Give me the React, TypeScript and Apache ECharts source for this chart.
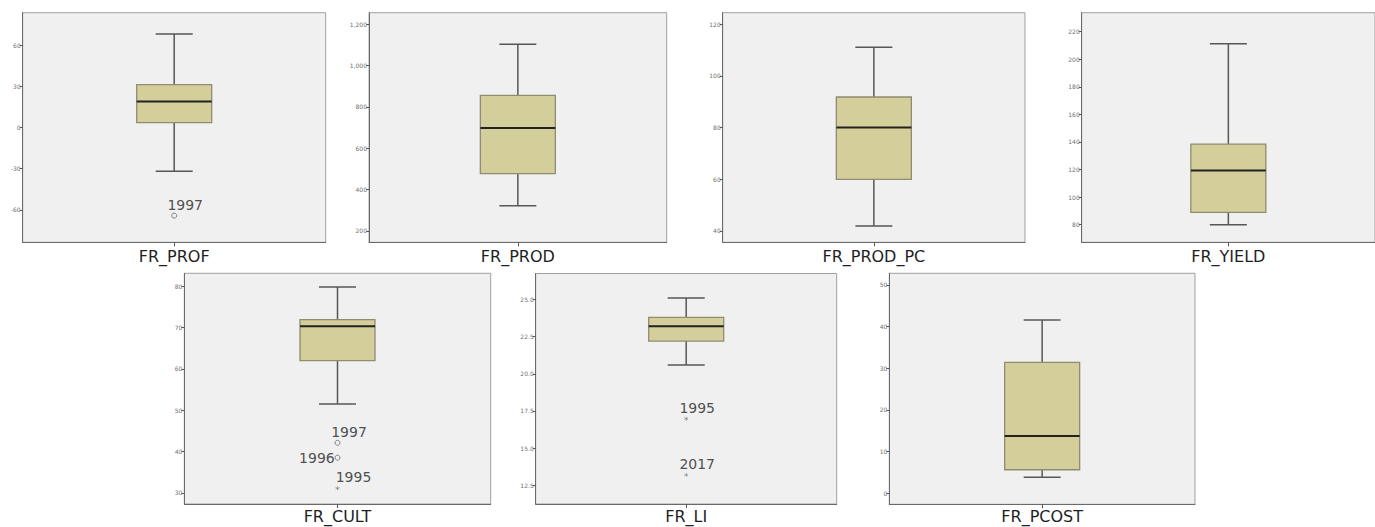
import React, { useEffect, useRef } from 'react';
import * as echarts from 'echarts';

// ---------- data ----------
const variables = ['FR_PROF', 'FR_PROD', 'FR_PROD_PC', 'FR_YIELD', 'FR_CULT', 'FR_LI', 'FR_PCOST'];

// [lower whisker, Q1, median, Q3, upper whisker]
const profStats = [-31.9, 3.6, 18.9, 31.2, 68];
const prodStats = [322, 477, 698, 855, 1103];
const prodPcStats = [41.9, 59.9, 80, 91.8, 111];
const yieldStats = [80, 88.9, 119.3, 138.5, 211.3];
const cultStats = [51.5, 62, 70.3, 71.9, 79.8];
const liStats = [20.6, 22.2, 23.2, 23.8, 25.1];
const pcostStats = [3.8, 5.6, 13.7, 31.4, 41.6];

// outliers: year label, value, extreme (asterisk) or not (circle)
const profOutliers = [{ year: '1997', value: -64.1, extreme: false }];
const prodOutliers: any[] = [];
const prodPcOutliers: any[] = [];
const yieldOutliers: any[] = [];
const cultOutliers = [
  { year: '1997', value: 42.1, extreme: false },
  { year: '1996', value: 38.5, extreme: false },
  { year: '1995', value: 31.1, extreme: true },
];
const liOutliers = [
  { year: '1995', value: 16.98, extreme: true },
  { year: '2017', value: 13.2, extreme: true },
];
const pcostOutliers: any[] = [];

// tick labels
const profTicks = [-60, -30, 0, 30, 60];
const prodTicks = [200, 400, 600, 800, 1000, 1200];
const prodPcTicks = [40, 60, 80, 100, 120];
const yieldTicks = [80, 100, 120, 140, 160, 180, 200, 220];
const cultTicks = [30, 40, 50, 60, 70, 80];
const liTicks = [12.5, 15, 17.5, 20, 22.5, 25];
const pcostTicks = [0, 10, 20, 30, 40, 50];

// axis extents
const profRange = [-83.5, 83.5];
const prodRange = [145, 1255];
const prodPcRange = [35.6, 124.4];
const yieldRange = [67.2, 233.8];
const cultRange = [27.3, 83.1];
const liRange = [11.24, 26.75];
const pcostRange = [-2.7, 52.8];

// ---------- layout / style ----------
const layout = [
  { left: 22.7, top: 12.7, width: 303, height: 229.6 },
  { left: 369, top: 12.7, width: 297.7, height: 229.6 },
  { left: 722.7, top: 12.7, width: 302.3, height: 229.6 },
  { left: 1081.7, top: 12.7, width: 303.3, height: 229.6 },
  { left: 184.3, top: 273.3, width: 306.4, height: 230.7 },
  { left: 535.7, top: 273.5, width: 301, height: 230.5 },
  { left: 889.3, top: 273.3, width: 305.7, height: 231 },
];
const labelMargins = [6, 6, 6, 6, 4, 4, 4];

// label offsets (per panel, per year)
const labelOffsets: Record<string, number[]> = {
  'FR_PROF-1997': [11, -10.4],
  'FR_CULT-1997': [11.5, -10.7],
  'FR_CULT-1996': [-20.6, 0.7],
  'FR_CULT-1995': [16, -11],
  'FR_LI-1995': [11, -10.7],
  'FR_LI-2017': [11, -10.7],
};

const BOX_W = 75;
const CAP_W = 37;
const BOX_FILL = '#d4cf9a';
const BOX_EDGE = '#8e8c72';
const WHISKER = '#575757';
const MEDIAN = '#222222';
const PLOT_BG = '#f0f0f0';
const STAR = 'path://M4.5,0 L5.5,0 L5.5,3.6 L8.6,1.8 L9.1,2.7 L6,4.5 L9.1,6.3 L8.6,7.2 L5.5,5.4 L5.5,9 L4.5,9 L4.5,5.4 L1.4,7.2 L0.9,6.3 L4,4.5 L0.9,2.7 L1.4,1.8 L4.5,3.6 Z';

const statsList = [profStats, prodStats, prodPcStats, yieldStats, cultStats, liStats, pcostStats];
const outlierList = [profOutliers, prodOutliers, prodPcOutliers, yieldOutliers, cultOutliers, liOutliers, pcostOutliers];
const tickList = [profTicks, prodTicks, prodPcTicks, yieldTicks, cultTicks, liTicks, pcostTicks];
const rangeList = [profRange, prodRange, prodPcRange, yieldRange, cultRange, liRange, pcostRange];

function fmt(i: number, v: number) {
  if (variables[i] === 'FR_LI') return v.toFixed(1);
  return v.toLocaleString('en-US');
}

export default function App() {
  const ref = useRef<HTMLDivElement>(null);
  useEffect(() => {
    if (!ref.current) return;
    const chart = echarts.init(ref.current, undefined, { renderer: 'svg' });

    const grid = layout.map((g) => ({
      ...g,
      show: true,
      backgroundColor: PLOT_BG,
      borderColor: '#a0a0a0',
      borderWidth: 1,
      containLabel: false,
    }));

    const xAxis = variables.map((name, i) => ({
      type: 'category',
      gridIndex: i,
      data: [name],
      axisLine: { show: true, onZero: false, lineStyle: { color: '#6a6a6a', width: 1 } },
      axisTick: { show: true, alignWithLabel: true, length: 4, lineStyle: { color: '#555' } },
      axisLabel: { fontSize: 16, color: '#1e1e1e', margin: labelMargins[i], fontFamily: 'DejaVu Sans' },
      splitLine: { show: false },
    }));

    const yAxis = variables.map((name, i) => ({
      type: 'value',
      gridIndex: i,
      min: rangeList[i][0],
      max: rangeList[i][1],
      axisLine: { show: true, onZero: false, lineStyle: { color: '#6a6a6a', width: 1 } },
      axisTick: { show: true, length: 3, lineStyle: { color: '#555' }, customValues: tickList[i] },
      axisLabel: {
        fontSize: 6,
        color: '#707070',
        margin: 2,
        customValues: tickList[i],
        formatter: (v: number) => fmt(i, v),
      },
      splitLine: { show: false },
    }));

    const series: any[] = [];
    variables.forEach((name, i) => {
      series.push({
        type: 'custom',
        name,
        xAxisIndex: i,
        yAxisIndex: i,
        data: [[0, ...statsList[i]]],
        encode: { x: 0, y: [1, 2, 3, 4, 5] },
        renderItem: (params: any, api: any) => {
          const x = api.value(0);
          const pLow = api.coord([x, api.value(1)]);
          const pQ1 = api.coord([x, api.value(2)]);
          const pMed = api.coord([x, api.value(3)]);
          const pQ3 = api.coord([x, api.value(4)]);
          const pHigh = api.coord([x, api.value(5)]);
          const cx = pLow[0];
          const hw = BOX_W / 2;
          const cw = CAP_W / 2;
          const ws = { stroke: WHISKER, lineWidth: 1.5 };
          return {
            type: 'group',
            children: [
              { type: 'line', shape: { x1: cx, y1: pHigh[1], x2: cx, y2: pQ3[1] }, style: ws },
              { type: 'line', shape: { x1: cx, y1: pQ1[1], x2: cx, y2: pLow[1] }, style: ws },
              { type: 'line', shape: { x1: cx - cw, y1: pHigh[1], x2: cx + cw, y2: pHigh[1] }, style: ws },
              { type: 'line', shape: { x1: cx - cw, y1: pLow[1], x2: cx + cw, y2: pLow[1] }, style: ws },
              {
                type: 'rect',
                shape: { x: cx - hw, y: pQ3[1], width: BOX_W, height: pQ1[1] - pQ3[1] },
                style: { fill: BOX_FILL, stroke: BOX_EDGE, lineWidth: 1.3 },
              },
              {
                type: 'line',
                shape: { x1: cx - hw, y1: pMed[1], x2: cx + hw, y2: pMed[1] },
                style: { stroke: MEDIAN, lineWidth: 2 },
              },
            ],
          };
        },
      });
      if (outlierList[i].length) {
        series.push({
          type: 'scatter',
          xAxisIndex: i,
          yAxisIndex: i,
          data: outlierList[i].map((o: any) => ({
            value: [0, o.value],
            symbol: o.extreme ? STAR : 'circle',
            symbolSize: o.extreme ? 4 : 5,
            itemStyle: o.extreme
              ? { color: '#555' }
              : { color: 'rgba(0,0,0,0)', borderColor: '#555', borderWidth: 0.9 },
            label: {
              show: true,
              formatter: o.year,
              position: 'inside',
              offset: labelOffsets[`${name}-${o.year}`] || [11, -10.5],
              fontSize: 14,
              color: '#222',
              fontFamily: 'DejaVu Sans',
            },
          })),
        });
      }
    });

    chart.setOption({
      animation: false,
      backgroundColor: '#ffffff',
      textStyle: { fontFamily: 'DejaVu Sans' },
      grid,
      xAxis,
      yAxis,
      series,
    });
    return () => chart.dispose();
  }, []);
  return (
    <div
      ref={ref}
      style={{ position: 'fixed', left: 0, top: 0, width: 1375, height: 527, background: '#fff' }}
    />
  );
}
